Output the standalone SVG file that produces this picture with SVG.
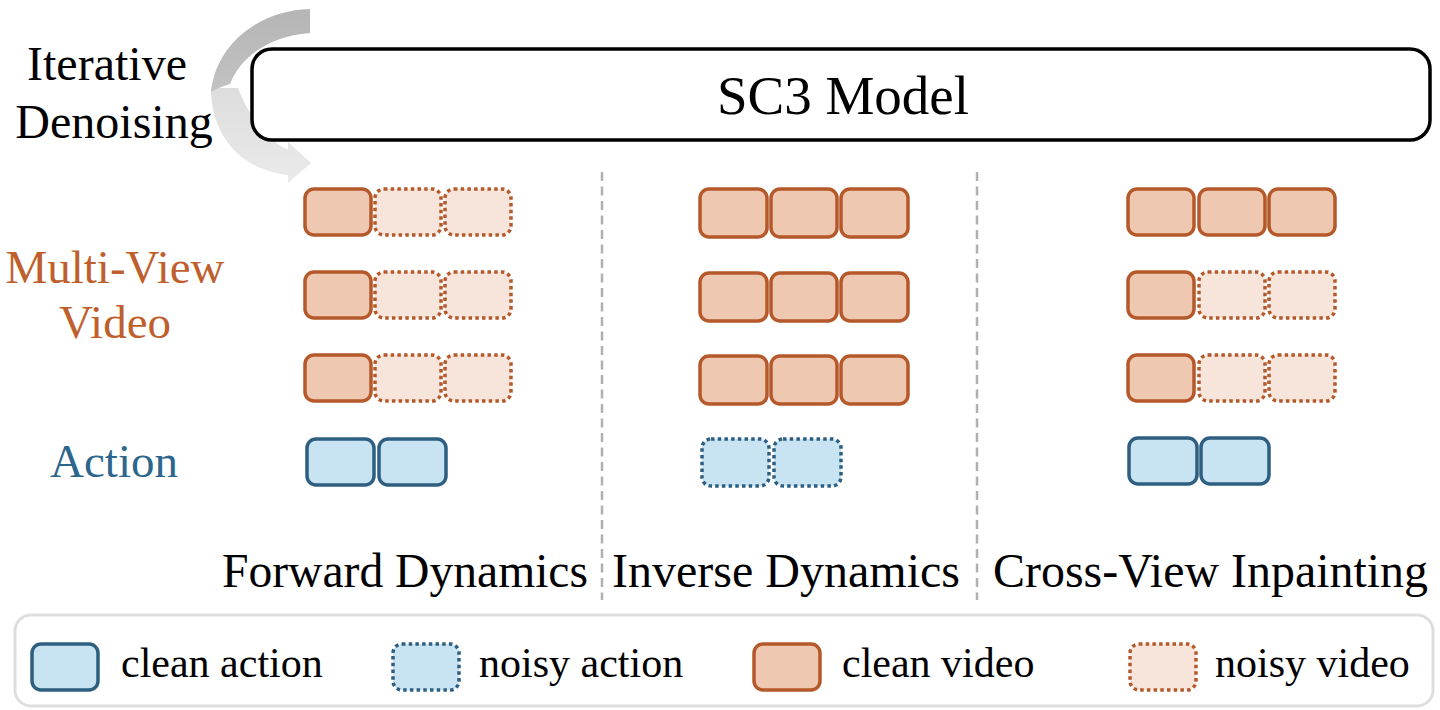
<svg xmlns="http://www.w3.org/2000/svg" width="1440" height="710" viewBox="0 0 1440 710" font-family="'Liberation Serif', 'Times New Roman', Times, serif">
<style>
text{font-family:'Liberation Serif','Times New Roman',Times,serif;fill:#000}
.cv{fill:#EFC8B1;stroke:#B5582A;stroke-width:3.5}
.nv{fill:#F7E4DA;stroke:#B5582A;stroke-width:3.5;stroke-dasharray:3.5 3.2}
.ca{fill:#C8E3F2;stroke:#2E5F80;stroke-width:3.5}
.na{fill:#C8E3F2;stroke:#2E5F80;stroke-width:3.5;stroke-dasharray:3.5 3.2}
.sep{stroke:#B0B0B0;stroke-width:2.5;stroke-dasharray:9 5.5;fill:none}
</style>
<defs>
<linearGradient id="g1" x1="0" y1="0" x2="0" y2="1">
<stop offset="0" stop-color="#B5B5B5"/><stop offset="1" stop-color="#C2C2C2"/>
</linearGradient>
<linearGradient id="g2" x1="0" y1="0" x2="0" y2="1">
<stop offset="0" stop-color="#DDDDDD"/><stop offset="1" stop-color="#EAEAEA"/>
</linearGradient>
</defs>
<rect width="1440" height="710" fill="#fff"/>

<g id="iterative-denoising">
<text x="107" y="80" font-size="48" text-anchor="middle">Iterative</text>
<text x="114" y="138" font-size="48" text-anchor="middle">Denoising</text>
<path d="M211,88 C211,135 240,170 288,175 L288,183 L311,163 L288,142 L288,150 C270,142 250,120 238,88 Z" fill="url(#g2)"/>
<path d="M310,9 C262,10 216,42 211,92 C218,88 224,86 230,84 C240,58 268,36 310,33 Z" fill="url(#g1)"/>
</g>

<g id="model">
<rect x="252" y="49" width="1178" height="91" rx="20" fill="#fff" stroke="#000" stroke-width="3.5"/>
<text x="843" y="114" font-size="55" text-anchor="middle">SC3 Model</text>
</g>

<g id="row-labels">
<text x="115" y="283" font-size="47" text-anchor="middle" style="fill:#BF5F2E">Multi-View</text>
<text x="115" y="338" font-size="47" text-anchor="middle" style="fill:#BF5F2E">Video</text>
<text x="114" y="477" font-size="47" text-anchor="middle" style="fill:#2C668C">Action</text>
</g>

<g id="connectors">
<line class="sep" x1="602" y1="172" x2="602" y2="600"/>
<line class="sep" x1="977" y1="172" x2="977" y2="600"/>
</g>

<g id="forward-dynamics">
<rect class="cv" x="305" y="189" width="66" height="46" rx="9"/>
<rect class="nv" x="375" y="189" width="66" height="46" rx="9"/>
<rect class="nv" x="445" y="189" width="66" height="46" rx="9"/>
<rect class="cv" x="305" y="272" width="66" height="46" rx="9"/>
<rect class="nv" x="375" y="272" width="66" height="46" rx="9"/>
<rect class="nv" x="445" y="272" width="66" height="46" rx="9"/>
<rect class="cv" x="305" y="355" width="66" height="46" rx="9"/>
<rect class="nv" x="375" y="355" width="66" height="46" rx="9"/>
<rect class="nv" x="445" y="355" width="66" height="46" rx="9"/>
<rect class="ca" x="307" y="439" width="67" height="46" rx="9"/>
<rect class="ca" x="379" y="439" width="67" height="46" rx="9"/>
<text x="222" y="587" font-size="48" textLength="366" lengthAdjust="spacingAndGlyphs">Forward Dynamics</text>
</g>

<g id="inverse-dynamics">
<rect class="cv" x="700" y="189" width="67" height="48" rx="9"/>
<rect class="cv" x="771" y="189" width="66" height="48" rx="9"/>
<rect class="cv" x="841" y="189" width="67" height="48" rx="9"/>
<rect class="cv" x="700" y="273" width="67" height="48" rx="9"/>
<rect class="cv" x="771" y="273" width="66" height="48" rx="9"/>
<rect class="cv" x="841" y="273" width="67" height="48" rx="9"/>
<rect class="cv" x="700" y="356" width="67" height="48" rx="9"/>
<rect class="cv" x="771" y="356" width="66" height="48" rx="9"/>
<rect class="cv" x="841" y="356" width="67" height="48" rx="9"/>
<rect class="na" x="702" y="439" width="67" height="47" rx="9"/>
<rect class="na" x="774" y="439" width="67" height="47" rx="9"/>
<text x="612" y="587" font-size="48" textLength="348" lengthAdjust="spacingAndGlyphs">Inverse Dynamics</text>
</g>

<g id="cross-view-inpainting">
<rect class="cv" x="1128" y="189" width="66" height="46" rx="9"/>
<rect class="cv" x="1199" y="189" width="66" height="46" rx="9"/>
<rect class="cv" x="1269" y="189" width="66" height="46" rx="9"/>
<rect class="cv" x="1128" y="272" width="66" height="46" rx="9"/>
<rect class="nv" x="1199" y="272" width="66" height="46" rx="9"/>
<rect class="nv" x="1269" y="272" width="66" height="46" rx="9"/>
<rect class="cv" x="1128" y="355" width="66" height="46" rx="9"/>
<rect class="nv" x="1199" y="355" width="66" height="46" rx="9"/>
<rect class="nv" x="1269" y="355" width="66" height="46" rx="9"/>
<rect class="ca" x="1129" y="438" width="68" height="46" rx="9"/>
<rect class="ca" x="1201" y="438" width="68" height="46" rx="9"/>
<text x="993" y="587" font-size="48" textLength="435" lengthAdjust="spacingAndGlyphs">Cross-View Inpainting</text>
</g>

<g id="legend">
<rect x="15" y="615" width="1418" height="91" rx="16" fill="#fff" stroke="#DEDEDE" stroke-width="3"/>
<rect class="ca" x="32" y="644" width="66" height="46" rx="9"/>
<text x="121" y="677" font-size="42">clean action</text>
<rect class="na" x="393" y="644" width="66" height="46" rx="9"/>
<text x="479" y="677" font-size="42">noisy action</text>
<rect class="cv" x="754" y="644" width="66" height="46" rx="9"/>
<text x="842" y="677" font-size="42">clean video</text>
<rect class="nv" x="1130" y="644" width="66" height="46" rx="9"/>
<text x="1215" y="677" font-size="42">noisy video</text>
</g>
</svg>
